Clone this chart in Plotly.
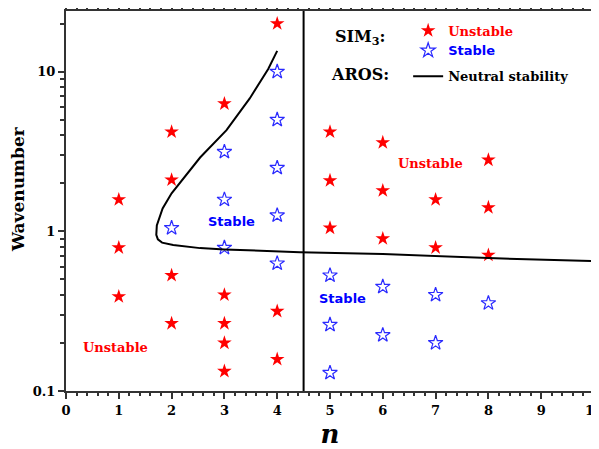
import math
import plotly.graph_objects as go

# SIM3 unstable points (n, wavenumber)
unstable_n = [1, 1, 1,
              2, 2, 2, 2,
              3, 3, 3, 3, 3,
              4, 4, 4,
              5, 5, 5,
              6, 6, 6,
              7, 7,
              8, 8, 8]
unstable_k = [1.58, 0.79, 0.39,
              4.2, 2.1, 0.53, 0.265,
              6.3, 0.4, 0.265, 0.2, 0.133,
              20.0, 0.316, 0.158,
              4.2, 2.08, 1.05,
              3.6, 1.8, 0.9,
              1.58, 0.79,
              2.8, 1.41, 0.71]

# SIM3 stable points
stable_n = [2,
            3, 3, 3,
            4, 4, 4, 4, 4,
            5, 5, 5,
            6, 6,
            7, 7,
            8]
stable_k = [1.05,
            3.15, 1.58, 0.79,
            10.0, 5.0, 2.5, 1.26, 0.63,
            0.53, 0.26, 0.13,
            0.45, 0.224,
            0.4, 0.2,
            0.355]

# AROS neutral stability curve
neutral_n = [4.0, 3.83, 3.48, 3.04, 2.54, 2.0, 1.83, 1.72, 1.71, 1.74, 1.82, 2.03, 2.54, 3.0, 4.43, 6.0, 8.0, 10.0]
neutral_k = [13.5, 10.4, 6.8, 4.3, 2.9, 1.73, 1.39, 1.09, 0.95, 0.89, 0.85, 0.82, 0.785, 0.77, 0.74, 0.72, 0.68, 0.65]

boundary_n = 4.5

x_ticks = [0, 1, 2, 3, 4, 5, 6, 7, 8, 9, 10]
y_tickvals = [0.1, 1, 10]
y_ticktext = ["0.1", "1", "10"]

SERIF = "DejaVu Serif"
SANS = "DejaVu Sans"

fig = go.Figure()
fig.add_trace(go.Scatter(
    x=unstable_n, y=unstable_k, mode="markers",
    marker=dict(symbol="star", size=11, color="#ff0000", line=dict(width=0)),
    name="<b><span style='color:#ff0000'>Unstable</span></b>",
    legendgroup="sim"))
fig.add_trace(go.Scatter(
    x=stable_n, y=stable_k, mode="markers",
    marker=dict(symbol="star-open", size=11, color="#2a2aff", line=dict(width=1.2)),
    name="<b><span style='font-family:DejaVu Sans;color:#0000ff'>Stable</span></b>",
    legendgroup="sim"))
fig.add_trace(go.Scatter(
    x=neutral_n, y=neutral_k, mode="lines",
    line=dict(color="black", width=2),
    name="<b>Neutral stability</b>",
    legendgroup="aros"))

fig.add_shape(type="line", x0=boundary_n, x1=boundary_n, xref="x",
              y0=0, y1=1, yref="paper", line=dict(color="black", width=2))

annots = [
    dict(text="Unstable", x=0.93, y=0.188, color="#ff0000", font=SERIF),
    dict(text="Stable", x=3.14, y=1.155, color="#0000ff", font=SANS),
    dict(text="Unstable", x=6.91, y=2.66, color="#ff0000", font=SERIF),
    dict(text="Stable", x=5.23, y=0.38, color="#0000ff", font=SANS),
]
for a in annots:
    fig.add_annotation(x=a["x"], y=math.log10(a["y"]), xref="x", yref="y",
                       text="<b>%s</b>" % a["text"], showarrow=False,
                       font=dict(family=a["font"], size=13, color=a["color"]))

fig.add_annotation(x=0.557, y=0.963, xref="paper", yref="paper",
                   text="<b>SIM<sub>3</sub>:</b>", showarrow=False,
                   font=dict(family=SERIF, size=16, color="black"))
fig.add_annotation(x=0.557, y=0.862, xref="paper", yref="paper",
                   text="<b>AROS:</b>", showarrow=False,
                   font=dict(family=SERIF, size=16, color="black"))

axis_common = dict(showline=True, linecolor="#333333", linewidth=2, mirror="ticks",
                   ticks="outside", tickcolor="#333333", showgrid=False, zeroline=False,
                   automargin=False, ticklabeloverflow="allow",
                   tickfont=dict(family=SERIF, size=13, color="black", weight="bold"))

fig.update_layout(
    width=591, height=441,
    margin=dict(l=58, r=5, t=3, b=58),
    paper_bgcolor="white", plot_bgcolor="white",
    showlegend=True,
    legend=dict(x=0.648, y=0.988, xanchor="left", yanchor="top",
                font=dict(family=SERIF, size=13, color="black"),
                bgcolor="rgba(0,0,0,0)", tracegroupgap=6, itemwidth=30),
    xaxis=dict(range=[0, 10], tickvals=x_ticks, ticklen=6, tickwidth=1.5,
               minor=dict(dtick=0.2, ticklen=3, ticks="outside", tickcolor="#333333", showgrid=False),
               title=dict(text="<b><i>n</i></b>", font=dict(family=SERIF, size=26, color="black"),
                          standoff=8),
               **axis_common),
    yaxis=dict(type="log", range=[-1, 1.38], tickvals=y_tickvals, ticktext=y_ticktext,
               ticklen=6, tickwidth=1.5,
               minor=dict(dtick="D1", ticklen=4, ticks="outside", tickcolor="#333333", showgrid=False),
               title=dict(text="<b>&nbsp;&nbsp;&nbsp;&nbsp;Wavenumber</b>",
                          font=dict(family=SERIF, size=17, color="black"),
                          standoff=4),
               **axis_common),
)

fig.write_html("out.html")
